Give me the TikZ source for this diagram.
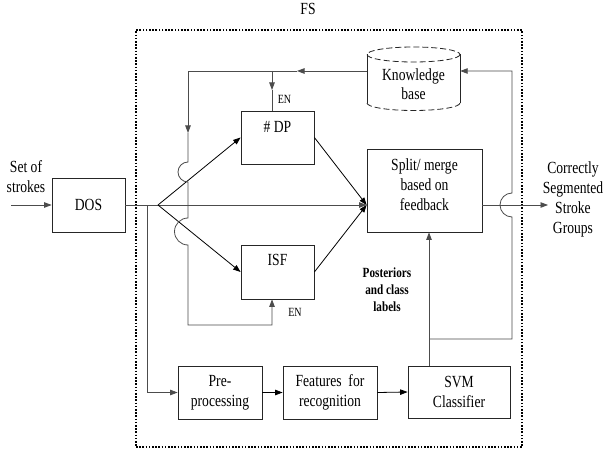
\documentclass[tikz,border=0pt]{standalone}
\usepackage{fontspec}
\setmainfont{Liberation Serif}[FakeStretch=0.8]
\usetikzlibrary{arrows.meta}
\begin{document}
\begin{tikzpicture}[x=1pt,y=-1pt,
  box/.style={draw=black!85, line width=0.8pt, rectangle, inner sep=0pt, align=center, font=\fontsize{17}{20}\selectfont},
  ln/.style={draw=black!70, line width=0.8pt},
  dk/.style={draw=black, line width=0.8pt},
  tip/.style={-{Triangle[length=7.5pt,width=5.5pt]}},
  txt/.style={font=\fontsize{17}{20}\selectfont, align=center, inner sep=0pt},
  small/.style={font=\fontsize{12.5}{14}\selectfont, inner sep=0pt},
  post/.style={font=\bfseries\fontsize{14}{17}\selectfont, align=center, inner sep=0pt}]
\fill[white] (0,0) rectangle (606,452);
\useasboundingbox (0,0) rectangle (606,452);

% frame
\node[txt] (fs) at (308,9) {FS};
\node[draw=black, line width=1.6pt, dash pattern=on 1.6pt off 1.6pt, minimum width=386, minimum height=417, inner sep=0pt] (fsbox) at (329,238.5) {};

% boxes
\node[box, minimum width=73, minimum height=54] (dos) at (88.5,205) {DOS};
\node[box, minimum width=73, minimum height=53] (dp) at (277.5,137.5) {};
\node[txt] (dpt) at (277.5,127) {\# DP};
\node[box, minimum width=73, minimum height=54] (isf) at (277.5,272) {};
\node[txt] (isft) at (277.5,260) {ISF};
\node[box, minimum width=115, minimum height=83] (sm) at (424.5,190.5) {};
\node[txt] (smt) at (424.5,185) {Split/ merge\\based on\\feedback};
\node[box, minimum width=84, minimum height=53] (pre) at (220,392.5) {Pre-\\processing};
\node[box, minimum width=94, minimum height=53] (feat) at (330,392.5) {Features\ \ for\\recognition};
\node[box, minimum width=102, minimum height=52] (svm) at (459,392) {SVM\\Classifier};

% knowledge base cylinder
\node[minimum width=93, minimum height=63, inner sep=0pt] (kb) at (413.5,78.5) {};
\draw[draw=black!85, line width=0.8pt] (367,54.5) -- (367,103) (460,54.5) -- (460,103);
\draw[draw=black!85, line width=0.8pt, dash pattern=on 6pt off 3pt] (413.5,54.5) ellipse [x radius=46.5, y radius=7.5];
\draw[draw=black!85, line width=0.8pt, dash pattern=on 6pt off 3pt] (367,103) arc[start angle=180, end angle=0, x radius=46.5, y radius=7.5];
\node[font=\fontsize{17}{18.5}\selectfont, align=center, inner sep=0pt] (kbt) at (413.5,84) {Knowledge\\base};

% texts
\node[txt] (inp) at (26,177) {Set of\\strokes};
\node[txt] (outp) at (573,199) {Correctly\\Segmented\\Stroke\\Groups};
\node[small] (en1) at (284.5,99) {EN};
\node[small] (en2) at (295,312) {EN};
\node[post] (postt) at (387,290) {Posteriors\\and class\\labels};

% coordinates
\coordinate (in) at (11,205);
\coordinate (sp) at (158,205);
\coordinate (brc) at (147,205);
\coordinate (mg) at (sm.west |- sp);
\coordinate (out) at (548,205);
\coordinate (fb) at (429,339);
\coordinate (fr) at (512,339);
\coordinate (ft) at (512,71);
\coordinate (a1) at (297,71);
\coordinate (tl) at (188,71);
\coordinate (a2) at (188,133);
\coordinate (enc) at (272,71);
\coordinate (a3) at (272,90);
\coordinate (bl) at (188,325);
\coordinate (bc) at (272,325);

% connectors
\draw[ln, tip] (in) -- (dos.west);
\draw[ln] (dos.east) -- (sp);
\draw[ln, tip] (sp) -- (mg);
\draw[dk, tip] (sp) -- (dp.west);
\draw[dk, tip] (sp) -- (isf.west);
\draw[dk, tip] (dp.east) -- (mg);
\draw[dk, tip] (isf.east) -- (mg);
\draw[ln, tip] (brc) |- (pre.west);
\draw[dk, tip] (pre.east) -- (feat.west);
\draw[dk, tip] (feat.east) -- (svm.west);
\draw[ln, tip] (sm.east |- mg) -- (out);
\draw[ln, tip] (fb |- svm.north) -- (fb |- sm.south);
\draw[ln, tip] (fb) -- (fr) -- (512,217) arc[start angle=90, end angle=270, radius=12] -- (ft) -- (kb.east |- ft);
\draw[ln, tip] (kb.west |- ft) -- (a1);
\draw[ln, tip] (a1) -- (tl) -- (a2);
\draw[ln, tip] (a2) -- (188,162) arc[start angle=270, end angle=90, radius=10] -- (188,218) arc[start angle=270, end angle=90, radius=13.5] -- (bl) -- (bc) -- (bc |- isf.south);
\draw[ln, tip] (enc) -- (a3);
\draw[ln] (a3) -- (enc |- dp.north);
\end{tikzpicture}
\end{document}
